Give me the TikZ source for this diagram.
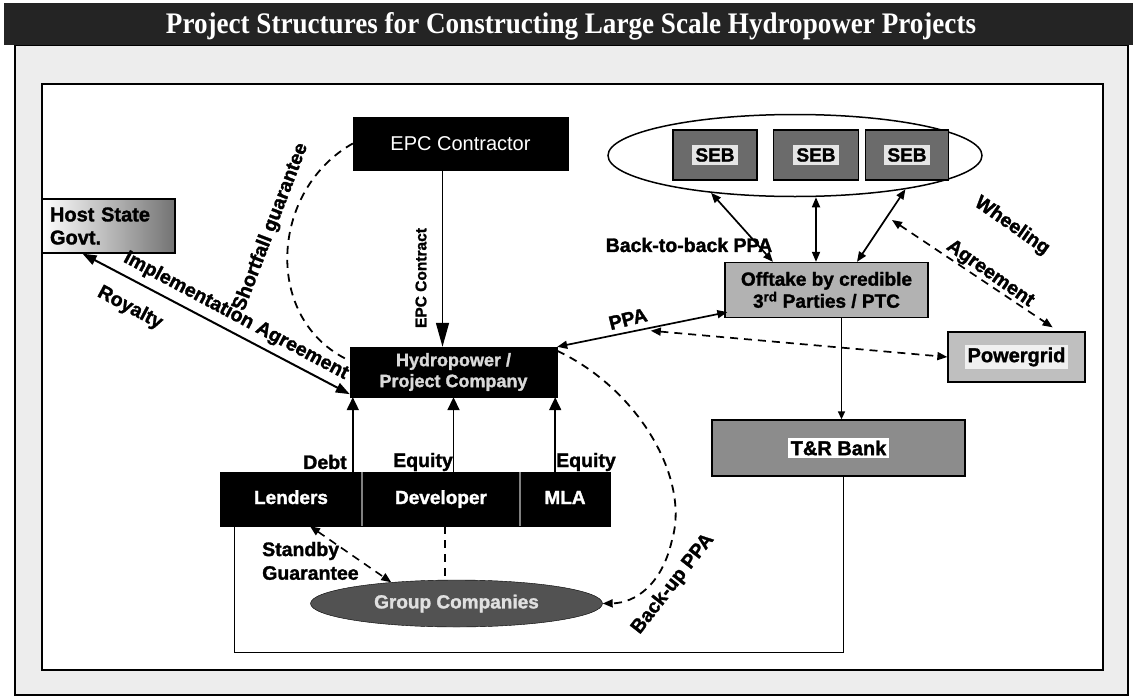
\documentclass[tikz,border=0pt]{standalone}
\usepackage{fontspec}
\setmainfont{Liberation Sans}[BoldFeatures={FakeBold=1.5}]
\newfontfamily\titlefont{Liberation Serif}
\usetikzlibrary{arrows.meta,shapes.geometric,calc}
\newcommand\lblfont{\fontsize{19.5}{22}\selectfont\bfseries}
\newcommand\boxfont{\fontsize{19}{22}\selectfont\bfseries}
\begin{document}
\begin{tikzpicture}[x=1pt,y=-1pt,
  lbl/.style={font=\lblfont, inner sep=0pt},
  blackbox/.style={draw=black, fill=black, text=white, inner sep=0pt, align=center, font=\boxfont},
  greybox/.style={draw=black, line width=1.3pt, inner sep=0pt, align=center, font=\boxfont, text=black},
  dblS/.style={line width=1.7pt, {Triangle[length=10pt,width=8pt]}-{Triangle[length=10pt,width=8pt]}},
  fund/.style={line width=1.8pt, -{Triangle[length=13pt,width=12pt]}},
  dsh/.style={line width=1.8pt, dash pattern=on 8pt off 6pt},
  strip/.style={blackbox, minimum height=54pt, text height=14pt, text depth=4pt},
]
\useasboundingbox (0,0) rectangle (1133,699);
% background and frames
\fill[white] (0,0) rectangle (1133,699);
\fill[black!7] (15,45) rectangle (1128,695);
\fill[white] (42,84) rectangle (1103,670);
\draw[line width=1.5pt] (15,45) rectangle (1128,695);
\draw[line width=2pt] (42,84) rectangle (1103,670);
\fill[black!86] (4,3) rectangle (1133,45);
\node[text=white, anchor=base, inner sep=0pt] (title) at (571,33)
  {\resizebox{810pt}{21pt}{\titlefont\bfseries Project Structures for Constructing Large Scale Hydropower Projects}};

% nodes
\node[blackbox, font=\fontsize{20}{24}\selectfont, minimum width=215pt, minimum height=53pt] (epc) at (460.5,143.5) {EPC Contractor};
\node[greybox, left color=white, right color=black!55, minimum width=133pt, minimum height=54pt, text width=117pt, align=left, font=\fontsize{20}{23}\selectfont\bfseries] (host) at (108.5,226) {Host State\\Govt.};
\node[blackbox, text=white!85!black, minimum width=207pt, minimum height=50pt, font=\fontsize{18}{21}\selectfont\bfseries] (hydro) at (453.5,372) {Hydropower /\\Project Company};
\node[strip, minimum width=142pt] (lenders) at (291,499) {Lenders};
\node[strip, minimum width=158pt] (developer) at (441,499) {Developer};
\node[strip, minimum width=90pt] (mla) at (565,499) {MLA};
\draw[white!50!black, line width=1.5pt] (lenders.north east) -- (lenders.south east);
\draw[white!50!black, line width=1.5pt] (developer.north east) -- (developer.south east);
\node[ellipse, draw=black, fill=black!68, minimum width=292pt, minimum height=47pt, inner sep=0pt, text=white!88!black, font=\boxfont] (group) at (456.5,603.5) {Group Companies};

\node[ellipse, draw=black, line width=1.5pt, minimum width=374pt, minimum height=82pt, inner sep=0pt] (sebell) at (795,155.5) {};
\node[greybox, fill=black!58, minimum width=84pt, minimum height=50pt] (seb1) at (715,155) {\colorbox{black!10}{SEB}};
\node[greybox, fill=black!58, minimum width=85pt, minimum height=50pt] (seb2) at (816,155) {\colorbox{black!10}{SEB}};
\node[greybox, fill=black!58, minimum width=83pt, minimum height=50pt] (seb3) at (907,155) {\colorbox{black!10}{SEB}};
\node[greybox, fill=black!30, minimum width=203pt, minimum height=55pt] (offtake) at (826.5,290) {Offtake by credible\\3\textsuperscript{rd} Parties / PTC};
\node[greybox, fill=black!25, minimum width=137pt, minimum height=50pt, font=\fontsize{20}{23}\selectfont\bfseries] (powergrid) at (1016.5,357) {\colorbox{black!6}{Powergrid}};
\node[greybox, fill=black!45, minimum width=253pt, minimum height=56pt, font=\fontsize{20}{23}\selectfont\bfseries] (trbank) at (838.5,448) {\colorbox{white}{T\&R Bank}};

% connectors
\coordinate (epcA) at ([xshift=-18pt]epc.south);
\draw[line width=1.4pt, -{Triangle[length=24pt,width=13pt]}] (epcA) -- (epcA |- hydro.north);

\coordinate (dA) at ([xshift=3pt]hydro.south west);
\coordinate (mA) at ([xshift=-2pt]hydro.south east);
\draw[fund] (dA |- lenders.north) -- (dA);
\draw[fund] (hydro.south |- developer.north) -- (hydro.south);
\draw[fund] (mA |- mla.north) -- (mA);

\draw[line width=2pt, {Triangle[length=14pt,width=10pt]}-{Triangle[length=14pt,width=10pt]}] ([xshift=-26pt]host.south) -- ([yshift=3pt]hydro.south west);

\draw[dsh] (epc.west) .. controls (270,190) and (262,320) .. ([yshift=-14pt]hydro.north west);

\draw[dsh, -{Triangle[length=10pt,width=8pt]}] ([yshift=-4pt]hydro.north east) .. controls (640,390) and (690,480) .. (672,540) .. controls (662,585) and (635,603) .. (group.east);

\draw[dsh, line width=1.6pt, {Triangle[length=10pt,width=8pt]}-{Triangle[length=10pt,width=8pt]}] ([xshift=19pt]lenders.south) -- (group.162);
\coordinate (devA) at ([xshift=4pt]developer.south);
\draw[dsh, line width=1.6pt] (devA) -- (devA |- group.north);

\draw[line width=1.2pt] ([xshift=15pt]lenders.south west) -- ++(0,126) -| ([xshift=5pt]trbank.south);

\coordinate (ppaEnd) at ([xshift=3pt,yshift=6pt]offtake.south west);
\draw[dblS] (hydro.north east) -- (ppaEnd);
\coordinate (ppaPt) at ($(hydro.north east)!0.55!(ppaEnd)$);
\draw[dsh, dblS] ([yshift=-3pt]ppaPt) -- (powergrid.west);

\coordinate (oA) at ([xshift=15pt]offtake.south);
\draw[line width=1.4pt, -{Triangle[length=8pt,width=7pt]}] (oA) -- (oA |- trbank.north);

\draw[dblS] (sebell.204) -- ([xshift=-53.5pt]offtake.north);
\draw[dblS] (seb2.south |- sebell.south) -- (seb2.south |- offtake.north);
\draw[dblS] (sebell.343) -- ([xshift=30.5pt]offtake.north);

\coordinate (wh) at (892,220);
\draw[dsh, dblS] (wh) -- ([xshift=-33pt,yshift=4pt]powergrid.north east);

% labels
\node[lbl] (lDebt) at (325,462) {Debt};
\node[lbl] (lEq1) at (423,462) {Equity};
\node[lbl] (lEq2) at (586,462) {Equity};
\node[lbl, anchor=west] (lStandby1) at (262,551) {Standby};
\node[lbl, anchor=west] (lStandby2) at (262,573) {Guarantee};
\node[lbl, rotate=90, font=\fontsize{15.5}{18}\selectfont\bfseries] (lEPC) at (421,278) {EPC Contract};
\node[lbl, rotate=69] (lShort) at (271,227) {Shortfall guarantee};
\node[lbl, rotate=-28] (lImpl) at (236,316) {Implementation Agreement};
\node[lbl, rotate=-28] (lRoy) at (130,308) {Royalty};
\node[lbl] (lB2B) at (689,245) {Back-to-back PPA};
\node[lbl, rotate=14] (lPPA) at (628,319) {PPA};
\node[lbl, rotate=-35] (lWheel1) at (1012,226) {Wheeling};
\node[lbl, rotate=-35] (lWheel2) at (990,274) {Agreement};
\node[lbl, rotate=52] (lBackup) at (673,584) {Back-up PPA};
\end{tikzpicture}
\end{document}
